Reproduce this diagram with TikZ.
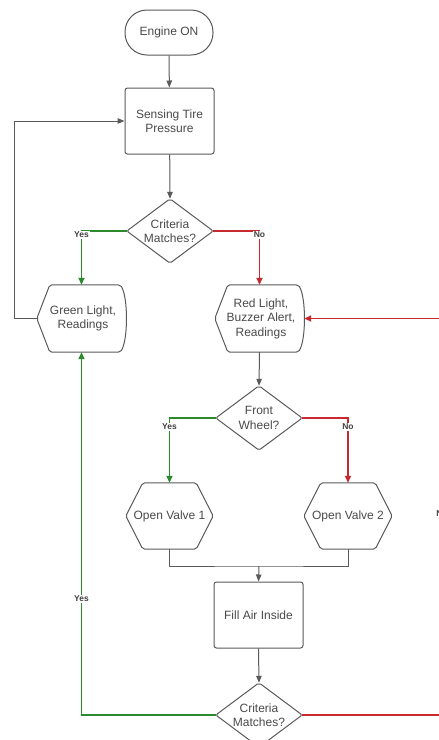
\documentclass[tikz,border=0pt]{standalone}
\usepackage{fontspec}
\setmainfont{Liberation Sans}
\usetikzlibrary{arrows.meta,calc}
\definecolor{edgec}{HTML}{5A5A5A}
\definecolor{txtc}{HTML}{4A4A4A}
\definecolor{ygreen}{HTML}{2C8A2C}
\definecolor{nred}{HTML}{C62A2E}
\tikzset{
  base/.style={align=center, text=txtc, font=\fontsize{12}{14.5}\selectfont, inner sep=1pt},
  box/.style={base, draw=edgec, line width=1pt, rounded corners=2.5pt, minimum width=89pt, minimum height=66pt},
  ghost/.style={base, draw=none},
  term/.style={base, draw=edgec, line width=1pt, rounded corners=22pt, minimum width=88pt, minimum height=45pt},
  outline/.style={draw=edgec, line width=1pt, rounded corners=2pt},
  flow/.style={draw=edgec, line width=1pt, -{Triangle[length=7pt,width=5.5pt]}},
  plain/.style={draw=edgec, line width=1pt},
  yesflow/.style={draw=ygreen, line width=1.8pt, -{Triangle[length=7pt,width=6pt]}},
  noflow/.style={draw=nred, line width=1.8pt, -{Triangle[length=7pt,width=6pt]}},
  lab/.style={font=\bfseries\fontsize{8.5}{10}\selectfont, text=black!75, fill=white, inner sep=1.2pt},
}
\begin{document}
\begin{tikzpicture}[x=1pt,y=-1pt]
\clip (0,0) rectangle (439,740);
\fill[white] (0,0) rectangle (439,740);

% nodes
\node[term] (eng) at (169,32.5) {Engine ON};
\node[box] (sense) at (169.5,121) {Sensing Tire\\Pressure};
\node[ghost, minimum width=86pt, minimum height=64pt] (c1) at (170,231) {Criteria\\Matches?};
\node[ghost, minimum width=89pt, minimum height=67pt] (green) at (81.5,318.5) {\hspace*{3pt}Green Light,\\\hspace*{3pt}Readings};
\node[ghost, minimum width=89pt, minimum height=67pt] (red) at (259.5,318.5) {\hspace*{3pt}Red Light,\\\hspace*{3pt}Buzzer Alert,\\\hspace*{3pt}Readings};
\node[ghost, minimum width=86pt, minimum height=64pt] (fw) at (259,418) {Front\\Wheel?};
\node[ghost, minimum width=87pt, minimum height=66pt] (ov1) at (169.5,516) {Open Valve 1};
\node[ghost, minimum width=88pt, minimum height=66pt] (ov2) at (348,516) {Open Valve 2};
\node[box] (fill) at (258.5,615) {Fill Air Inside};
\node[ghost, minimum width=86pt, minimum height=64pt] (c3) at (259,715) {Criteria\\Matches?};

% shapes
\foreach \d in {c1,fw,c3}{
  \draw[outline] (\d.north) -- (\d.east) -- (\d.south) -- (\d.west) -- cycle;
}
\foreach \h in {green,red}{
  \draw[outline] (\h.west) -- ($(\h.north west)+(13,0)$) -- ($(\h.north east)+(-6,0)$)
    .. controls ($(\h.north east)+(2,12)$) and ($(\h.south east)+(2,-12)$) .. ($(\h.south east)+(-6,0)$)
    -- ($(\h.south west)+(13,0)$) -- cycle;
}
\foreach \v in {ov1,ov2}{
  \draw[outline] (\v.west) -- ($(\v.north west)+(17,0)$) -- ($(\v.north east)+(-17,0)$) -- (\v.east)
    -- ($(\v.south east)+(-17,0)$) -- ($(\v.south west)+(17,0)$) -- cycle;
}

% coordinates
\coordinate (fbx) at (14,121);
\coordinate (mrg) at (259,566);
\coordinate (rc1) at (442,715);
\coordinate (rc2) at (442,318.5);

% connectors
\draw[flow] (eng) -- (sense);
\draw[flow] (sense) -- (c1.north);
\draw[flow] (green.west) -| (fbx) -- (sense.west);
\draw[yesflow] (c1.west) -| node[lab, pos=0.5, yshift=-4pt] {Yes} (green.north);
\draw[noflow] (c1.east) -| node[lab, pos=0.5, yshift=-4pt] {No} (red.north);
\draw[flow] (red.south) -- (fw.north);
\draw[yesflow] (fw.west) -| node[lab, pos=0.5, yshift=-9pt] {Yes} (ov1.north);
\draw[noflow] (fw.east) -| node[lab, pos=0.5, yshift=-9pt] {No} (ov2.north);
\draw[plain] (ov1.south) |- (mrg) -| (ov2.south);
\draw[flow] (mrg) -- (fill.north);
\draw[flow] (fill.south) -- (c3.north);
\draw[yesflow] (c3.west) -| node[lab, pos=0.66] {Yes} (green.south);
\draw[noflow] (c3.east) -- (rc1) -- node[lab, pos=0.5, yshift=3pt] {No} (rc2) -- (red.east);
\end{tikzpicture}
\end{document}
